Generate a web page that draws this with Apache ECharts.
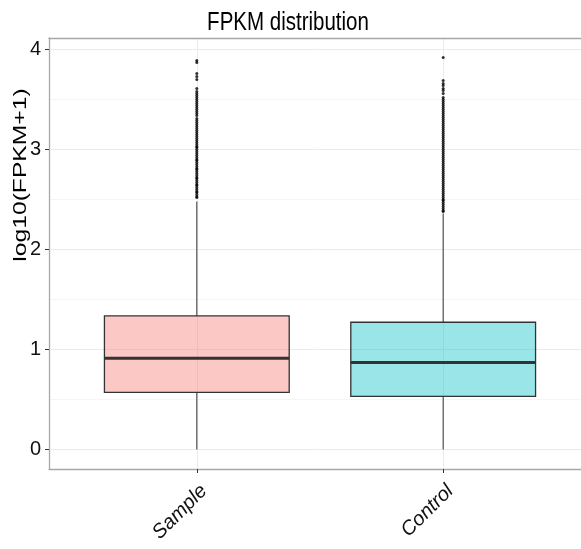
<!DOCTYPE html>
<html><head><meta charset="utf-8">
<script src="https://cdn.jsdelivr.net/npm/echarts@6/dist/echarts.min.js"></script>
<style>html,body{margin:0;padding:0;background:#fff}#c{width:581px;height:549px}</style>
</head><body><div id="c"></div>
<script>
const titleText = 'FPKM distribution';
const yAxisTitle = 'log10(FPKM+1)';
const categories = ['Sample', 'Control'];
const categoryPositions = [1, 2];
// [lower whisker, Q1, median, Q3, upper whisker]
const sampleBox = [0, 0.57, 0.912, 1.335, 2.48];
const controlBox = [0, 0.53, 0.869, 1.272, 2.36];
const sampleOutliers = [2.52, 2.53, 2.55, 2.57, 2.58, 2.60, 2.62, 2.64, 2.65, 2.67, 2.69, 2.71, 2.72, 2.74, 2.76, 2.78, 2.80, 2.81, 2.83, 2.85, 2.87, 2.89, 2.90, 2.92, 2.94, 2.96, 2.98, 3.00, 3.02, 3.03, 3.05, 3.07, 3.09, 3.11, 3.13, 3.15, 3.17, 3.19, 3.21, 3.23, 3.25, 3.27, 3.29, 3.31, 3.34, 3.36, 3.38, 3.40, 3.42, 3.44, 3.46, 3.48, 3.50, 3.52, 3.54, 3.56, 3.58, 3.61, 3.70, 3.73, 3.76, 3.87, 3.89];
const controlOutliers = [2.38, 2.39, 2.41, 2.43, 2.45, 2.47, 2.49, 2.50, 2.52, 2.54, 2.56, 2.58, 2.60, 2.62, 2.64, 2.66, 2.68, 2.70, 2.72, 2.74, 2.76, 2.78, 2.80, 2.82, 2.84, 2.86, 2.88, 2.90, 2.92, 2.94, 2.96, 2.98, 3.00, 3.02, 3.04, 3.06, 3.08, 3.10, 3.12, 3.14, 3.16, 3.18, 3.20, 3.22, 3.24, 3.26, 3.28, 3.30, 3.32, 3.34, 3.36, 3.38, 3.40, 3.42, 3.44, 3.46, 3.48, 3.50, 3.52, 3.56, 3.59, 3.61, 3.64, 3.66, 3.69, 3.92];
const yTicks = [0, 1, 2, 3, 4];
const yMinorTicks = [0.5, 1.5, 2.5, 3.5];

const boxFills = ['rgba(248,118,109,0.4)', 'rgba(0,191,196,0.4)'];
const chart = echarts.init(document.getElementById('c'), null, {renderer: 'canvas'});
const FONT = '"Liberation Sans", Arial, sans-serif';
const frameLine = {show: true, onZero: false, lineStyle: {color: '#a8a8a8', width: 1.3}};

const option = {
  animation: false,
  backgroundColor: '#fff',
  graphic: [
    {type: 'text', x: 288, y: 23, scaleX: 0.82, z: 10,
     style: {text: titleText, font: '25px ' + FONT, fill: '#000', textAlign: 'center', textVerticalAlign: 'middle'}},
    {type: 'text', x: 21, y: 175, rotation: Math.PI / 2, scaleX: 1.37, z: 10,
     style: {text: yAxisTitle, font: '18px ' + FONT, fill: '#000', textAlign: 'center', textVerticalAlign: 'middle'}}
  ],
  grid: {left: 49, right: -10, top: 38, bottom: 80, show: false, containLabel: false, outerBoundsMode: 'none'},
  xAxis: [
    {type: 'value', min: 0.4, max: 2.6, position: 'bottom',
     axisLine: frameLine,
     axisTick: {show: true, customValues: categoryPositions, length: 4, lineStyle: {color: '#333', width: 1}},
     axisLabel: {customValues: categoryPositions, formatter: v => categories[Math.round(v) - 1] || '',
       rotate: 45, fontStyle: 'italic', fontSize: 20, fontFamily: FONT, color: '#111', margin: 12,
       align: 'right', verticalAlign: 'top'},
     splitLine: {show: true, lineStyle: {color: '#ebebeb', width: 1}}},
    {type: 'value', min: 0.4, max: 2.6, position: 'top',
     axisLine: frameLine, axisTick: {show: false}, axisLabel: {show: false}, splitLine: {show: false}}
  ],
  yAxis: [
    {type: 'value', min: -0.196, max: 4.116,
     axisLine: frameLine,
     axisTick: {show: true, customValues: yTicks, length: 4, lineStyle: {color: '#333', width: 1}},
     axisLabel: {customValues: yTicks, fontSize: 20, fontFamily: FONT, color: '#111', margin: 8},
     splitLine: {show: true, lineStyle: {color: '#ebebeb', width: 1}}},
    {type: 'value', min: -0.196, max: 4.116, position: 'left',
     axisLine: {show: false},
     axisTick: {show: false, customValues: yMinorTicks},
     axisLabel: {show: false, customValues: yMinorTicks},
     splitLine: {show: true, lineStyle: {color: '#f5f5f5', width: 1}}}
  ],
  series: [
    {
      type: 'custom', xAxisIndex: 0, yAxisIndex: 0, z: 2,
      encode: {x: 0, y: [1, 2, 3, 4, 5]},
      data: [[categoryPositions[0]].concat(sampleBox), [categoryPositions[1]].concat(controlBox)],
      renderItem: function (params, api) {
        const x = api.value(0);
        const lo = api.coord([x, api.value(1)]);
        const q1 = api.coord([x, api.value(2)]);
        const md = api.coord([x, api.value(3)]);
        const q3 = api.coord([x, api.value(4)]);
        const hi = api.coord([x, api.value(5)]);
        const half = api.size([0.75, 0])[0] / 2;
        return {type: 'group', children: [
          {type: 'line', shape: {x1: lo[0], y1: lo[1], x2: q1[0], y2: q1[1]}, style: {stroke: '#444', lineWidth: 1.1}},
          {type: 'line', shape: {x1: q3[0], y1: q3[1], x2: hi[0], y2: hi[1]}, style: {stroke: '#444', lineWidth: 1.1}},
          {type: 'rect', shape: {x: q3[0] - half, y: q3[1], width: half * 2, height: q1[1] - q3[1]},
           style: {fill: boxFills[params.dataIndex], stroke: '#333', lineWidth: 1.3}},
          {type: 'line', shape: {x1: md[0] - half, y1: md[1], x2: md[0] + half, y2: md[1]}, style: {stroke: '#333', lineWidth: 3}}
        ]};
      }
    },
    {type: 'scatter', xAxisIndex: 0, yAxisIndex: 0, z: 3, symbolSize: 3, itemStyle: {color: '#000'},
     data: sampleOutliers.map(v => [categoryPositions[0], v])},
    {type: 'scatter', xAxisIndex: 0, yAxisIndex: 0, z: 3, symbolSize: 3, itemStyle: {color: '#000'},
     data: controlOutliers.map(v => [categoryPositions[1], v])}
  ]
};
chart.setOption(option);
</script>
</body></html>
